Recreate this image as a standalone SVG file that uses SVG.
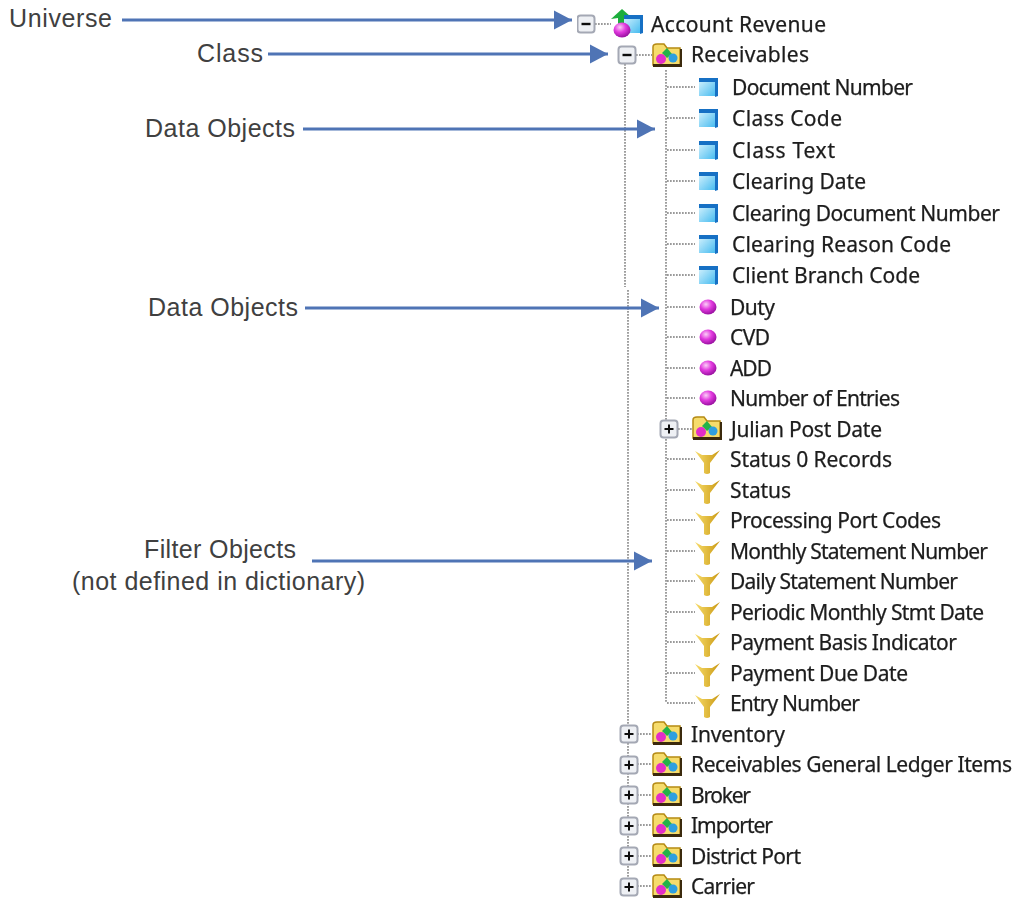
<svg xmlns="http://www.w3.org/2000/svg" width="1016" height="899" viewBox="0 0 1016 899">
<style>
.t{font-family:"Noto Sans","DejaVu Sans",sans-serif;font-size:21px;fill:#1c1c1c;stroke:#1c1c1c;stroke-width:.25}
.l{font-family:"Liberation Sans",Arial,sans-serif;font-size:25px;fill:#404040}
.d{fill:none;stroke:#9a9a9a;stroke-width:1.9;stroke-dasharray:1.7 1.3}
.a{fill:none;stroke:#4f74b5;stroke-width:3}
</style>
<defs>
<filter id="soft" x="0" y="0" width="1" height="1" filterUnits="objectBoundingBox"><feGaussianBlur stdDeviation=".5"/></filter>
<marker id="ah" markerUnits="userSpaceOnUse" markerWidth="19" markerHeight="20" refX="18" refY="10" orient="auto"><path d="M0 .5L18 10L0 19.500Z" fill="#4f74b5"/></marker>
<linearGradient id="cb" x1="0" y1="0" x2="1" y2="1"><stop offset="0" stop-color="#d2f1fd"/><stop offset="1" stop-color="#48bcf0"/></linearGradient>
<radialGradient id="sp" cx=".38" cy=".32" r=".75"><stop offset="0" stop-color="#fbd0f6"/><stop offset=".45" stop-color="#e23adf"/><stop offset="1" stop-color="#8d0a96"/></radialGradient>
<linearGradient id="fn" x1="0" y1="0" x2="1" y2="0"><stop offset="0" stop-color="#f8dc6a"/><stop offset="1" stop-color="#c99812"/></linearGradient>
<g id="cube"><path d="M-9-7H7V9H-9Z" fill="url(#cb)"/><path d="M-9-9H10V9L7 10V-5H-9Z" fill="#1670c4"/></g>
<ellipse id="ball" rx="8.500" ry="7.500" fill="url(#sp)"/>
<g id="funnel"><path d="M-12-10L-5-6H5L13-11L3 2V12Q0 14-3 12V2Z" fill="url(#fn)"/></g>
<g id="folder"><path d="M-14-9Q-14-12-10-12H-3L0-8H13V9H-14Z" fill="#f6dc6c" stroke="#b58a14" stroke-width="1.5"/><path d="M-14 8H15V11H-14Z" fill="#3a2c08"/><path d="M14-7V10" stroke="#3a2c08" stroke-width="2"/><path d="M-5-3L0-8L5-2L0 2Z" fill="#22b34a"/><circle cx="6" cy="2" r="4.500" fill="#2f9fe0"/><circle cx="-6" cy="3" r="5" fill="#e22fc8"/></g>
<g id="plus"><rect x="-8.500" y="-8.500" width="17" height="17" rx="3" fill="#eef0f4" stroke="#a4a8b4" stroke-width="2"/><path d="M-4.500 0H4.500M0-4.500V4.500" stroke="#111" stroke-width="2"/></g>
<g id="minus"><rect x="-8.500" y="-8.500" width="17" height="17" rx="3" fill="#eef0f4" stroke="#a4a8b4" stroke-width="2"/><path d="M-4.500 0H4.500" stroke="#111" stroke-width="2.400"/></g>
</defs>
<rect width="1016" height="899" fill="#fff"/>
<g id="connectors">
<path class="d" d="M625 64V287M628 290V880M666 70V703M595 24H611M636 55H652"/>
<path class="d" d="M667 87H695M667 118H695M667 150H695M667 181H695M667 213H695M667 244H695M667 275H695M667 307H695M667 337H695M667 368H695M667 398H695M678 429H692M667 459H695M667 490H695M667 520H695M667 551H695M667 581H695M667 612H695M667 642H695M667 673H695M667 703H695M637 734H652M637 764H652M637 795H652M637 825H652M637 856H652M637 886H652"/>
<path class="a" marker-end="url(#ah)" d="M122 20H572"/>
<path class="a" marker-end="url(#ah)" d="M268 54H608"/>
<path class="a" marker-end="url(#ah)" d="M303 129H655"/>
<path class="a" marker-end="url(#ah)" d="M305 308H659"/>
<path class="a" marker-end="url(#ah)" d="M312 561H652"/>
</g>
<g id="label-universe"><text class="l" x="9" y="27" textLength="103">Universe</text></g>
<g id="label-class"><text class="l" x="197" y="62" textLength="66">Class</text></g>
<g id="label-data1"><text class="l" x="145" y="137" textLength="150">Data Objects</text></g>
<g id="label-data2"><text class="l" x="148" y="316" textLength="150">Data Objects</text></g>
<g id="label-filter"><text class="l" x="144" y="558" textLength="152">Filter Objects</text><text class="l" x="72" y="590" textLength="293">(not defined in dictionary)</text></g>
<g id="tree" filter="url(#soft)">
<g id="n-account"><use href="#minus" x="586" y="24"/><path d="M611 19L622 9L631 17L626 21V24H618V18Z" fill="#1fae3c"/><use href="#cube" transform="translate(633 24)"/><use href="#ball" transform="translate(622 30)"/><text class="t" x="651" y="32" textLength="175">Account Revenue</text></g>
<g id="n-receivables"><use href="#minus" x="627" y="55"/><use href="#folder" x="667" y="56"/><text class="t" x="691" y="62" textLength="118">Receivables</text></g>
<g id="n-doc"><use href="#cube" x="708" y="87"/><text class="t" x="732" y="95" textLength="181">Document Number</text></g>
<g id="n-classcode"><use href="#cube" x="708" y="118"/><text class="t" x="732" y="126" textLength="110">Class Code</text></g>
<g id="n-classtext"><use href="#cube" x="708" y="150"/><text class="t" x="732" y="158" textLength="103">Class Text</text></g>
<g id="n-cleardate"><use href="#cube" x="708" y="181"/><text class="t" x="732" y="189" textLength="134">Clearing Date</text></g>
<g id="n-cleardoc"><use href="#cube" x="708" y="213"/><text class="t" x="732" y="221" textLength="268">Clearing Document Number</text></g>
<g id="n-clearreason"><use href="#cube" x="708" y="244"/><text class="t" x="732" y="252" textLength="219">Clearing Reason Code</text></g>
<g id="n-branch"><use href="#cube" x="708" y="275"/><text class="t" x="732" y="283" textLength="188">Client Branch Code</text></g>
<g id="n-duty"><use href="#ball" x="708" y="307"/><text class="t" x="730" y="315" textLength="45">Duty</text></g>
<g id="n-cvd"><use href="#ball" x="708" y="337"/><text class="t" x="730" y="345" textLength="40">CVD</text></g>
<g id="n-add"><use href="#ball" x="708" y="368"/><text class="t" x="730" y="376" textLength="42">ADD</text></g>
<g id="n-entries"><use href="#ball" x="708" y="398"/><text class="t" x="730" y="406" textLength="170">Number of Entries</text></g>
<g id="n-julian"><use href="#plus" x="669" y="429"/><use href="#folder" x="707" y="429"/><text class="t" x="731" y="437" textLength="151">Julian Post Date</text></g>
<g id="n-status0"><use href="#funnel" x="707" y="461"/><text class="t" x="730" y="467" textLength="162">Status 0 Records</text></g>
<g id="n-status"><use href="#funnel" x="707" y="491"/><text class="t" x="730" y="498" textLength="61">Status</text></g>
<g id="n-port"><use href="#funnel" x="707" y="522"/><text class="t" x="730" y="528" textLength="211">Processing Port Codes</text></g>
<g id="n-monthly"><use href="#funnel" x="707" y="552"/><text class="t" x="730" y="559" textLength="258">Monthly Statement Number</text></g>
<g id="n-daily"><use href="#funnel" x="707" y="583"/><text class="t" x="730" y="589" textLength="228">Daily Statement Number</text></g>
<g id="n-periodic"><use href="#funnel" x="707" y="613"/><text class="t" x="730" y="620" textLength="254">Periodic Monthly Stmt Date</text></g>
<g id="n-basis"><use href="#funnel" x="707" y="644"/><text class="t" x="730" y="650" textLength="227">Payment Basis Indicator</text></g>
<g id="n-due"><use href="#funnel" x="707" y="674"/><text class="t" x="730" y="681" textLength="178">Payment Due Date</text></g>
<g id="n-entry"><use href="#funnel" x="707" y="705"/><text class="t" x="730" y="711" textLength="130">Entry Number</text></g>
<g id="n-inventory"><use href="#plus" x="629" y="734"/><use href="#folder" x="667" y="734"/><text class="t" x="691" y="742" textLength="94">Inventory</text></g>
<g id="n-rgli"><use href="#plus" x="629" y="765"/><use href="#folder" x="667" y="765"/><text class="t" x="691" y="772" textLength="321">Receivables General Ledger Items</text></g>
<g id="n-broker"><use href="#plus" x="629" y="795"/><use href="#folder" x="667" y="795"/><text class="t" x="691" y="803" textLength="60">Broker</text></g>
<g id="n-importer"><use href="#plus" x="629" y="826"/><use href="#folder" x="667" y="826"/><text class="t" x="691" y="833" textLength="82">Importer</text></g>
<g id="n-district"><use href="#plus" x="629" y="856"/><use href="#folder" x="667" y="856"/><text class="t" x="691" y="864" textLength="110">District Port</text></g>
<g id="n-carrier"><use href="#plus" x="629" y="887"/><use href="#folder" x="667" y="887"/><text class="t" x="691" y="894" textLength="64">Carrier</text></g>
</g>
</svg>
